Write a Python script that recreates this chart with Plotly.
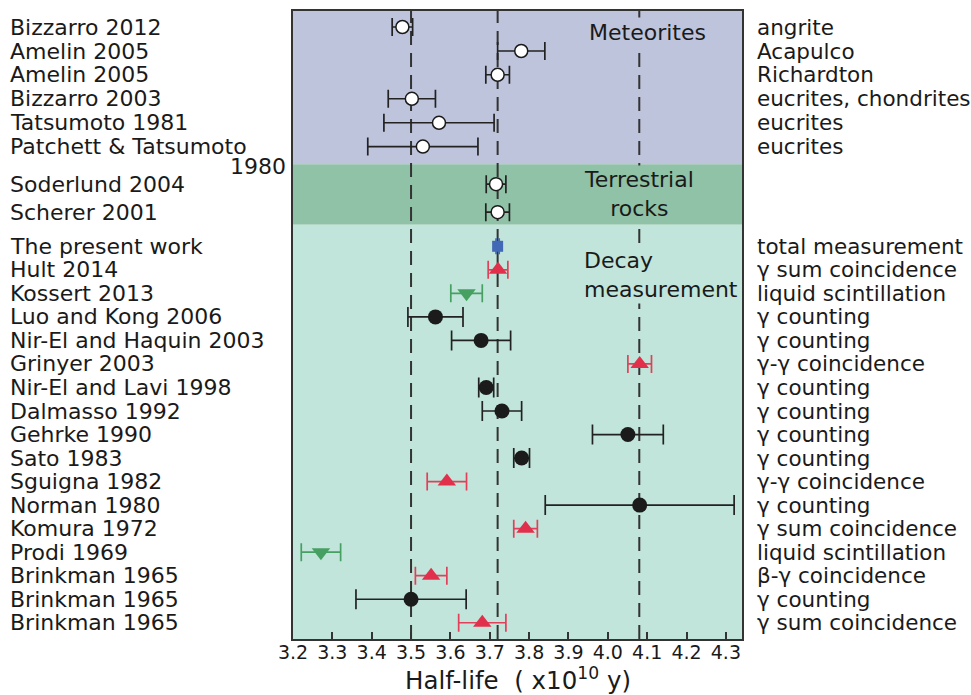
import plotly.graph_objects as go

# ---------------- data ----------------
refs = ["Bizzarro 2012", "Amelin 2005", "Amelin 2005", "Bizzarro 2003", "Tatsumoto 1981",
        "Patchett & Tatsumoto",
        "Soderlund 2004", "Scherer 2001",
        "The present work", "Hult 2014", "Kossert 2013", "Luo and Kong 2006",
        "Nir-El and Haquin 2003", "Grinyer 2003", "Nir-El and Lavi 1998", "Dalmasso 1992",
        "Gehrke 1990", "Sato 1983", "Sguigna 1982", "Norman 1980", "Komura 1972",
        "Prodi 1969", "Brinkman 1965", "Brinkman 1965", "Brinkman 1965"]
methods = ["angrite", "Acapulco", "Richardton", "eucrites, chondrites", "eucrites", "eucrites",
           "", "",
           "total measurement", "γ sum coincidence", "liquid scintillation", "γ counting",
           "γ counting", "γ-γ coincidence", "γ counting", "γ counting", "γ counting",
           "γ counting", "γ-γ coincidence", "γ counting", "γ sum coincidence",
           "liquid scintillation", "β-γ coincidence", "γ counting", "γ sum coincidence"]
half_life = [3.478, 3.780, 3.720, 3.502, 3.571, 3.530,
             3.716, 3.720,
             3.720, 3.721, 3.641, 3.562, 3.678, 4.081, 3.691, 3.731, 4.051, 3.781,
             3.591, 4.081, 3.791, 3.271, 3.551, 3.500, 3.681]
uncert = [0.026, 0.060, 0.030, 0.060, 0.140, 0.140,
          0.025, 0.030,
          0.004, 0.025, 0.040, 0.070, 0.075, 0.030, 0.019, 0.050, 0.090, 0.020,
          0.050, 0.240, 0.030, 0.050, 0.040, 0.140, 0.060]
kinds = ["open"] * 8 + ["square", "tri_up", "tri_down", "dot", "dot", "tri_up", "dot", "dot",
                        "dot", "dot", "tri_up", "dot", "tri_up", "tri_down", "tri_up", "dot",
                        "tri_up"]
# row slots (top to bottom)
rows = [0.68, 1.70, 2.71, 3.73, 4.75, 5.76,
        7.36, 8.55] + [10 + i for i in range(17)]

ref_lines = [3.50, 3.72, 4.08]
x_ticks = [3.2, 3.3, 3.4, 3.5, 3.6, 3.7, 3.8, 3.9, 4.0, 4.1, 4.2, 4.3]

groups = [("Meteorites", 0.0, 6.51, "#bec4dc"),
          ("Terrestrial<br>rocks", 6.51, 9.08, "#8fc2a6"),
          ("Decay<br>measurement", 9.08, 26.69, "#c1e5da")]

# ---------------- styles ----------------
FONT = "DejaVu Sans"
styles = {
    "open": dict(symbol="circle", size=13, color="white", line=dict(color="#1a1a1a", width=1.5),
                 ecolor="#222222", ew=9),
    "dot": dict(symbol="circle", size=15, color="#1b1b1b", line=dict(width=0),
                ecolor="#222222", ew=10),
    "tri_up": dict(symbol="triangle-up", size=16, color="#e0304c", line=dict(width=0),
                   ecolor="#e2405a", ew=9),
    "tri_down": dict(symbol="triangle-down", size=16, color="#46a062", line=dict(width=0),
                     ecolor="#46a062", ew=9),
    "square": dict(symbol="square", size=11, color="#4169b5", line=dict(width=0),
                   ecolor="#4169b5", ew=8),
}

fig = go.Figure()

for kind in ["open", "dot", "tri_up", "tri_down", "square"]:
    idx = [i for i, k in enumerate(kinds) if k == kind]
    st = styles[kind]
    fig.add_trace(go.Scatter(
        x=[half_life[i] for i in idx],
        y=[rows[i] for i in idx],
        mode="markers",
        marker=dict(symbol=st["symbol"], size=st["size"], color=st["color"], line=st["line"]),
        error_x=dict(type="data", array=[uncert[i] for i in idx], color=st["ecolor"],
                     thickness=1.7, width=st["ew"]),
        showlegend=False, hoverinfo="x+y",
    ))

shapes = []
for name, y0, y1, col in groups:
    shapes.append(dict(type="rect", xref="paper", yref="y", x0=0, x1=1, y0=y0, y1=y1,
                       fillcolor=col, line=dict(width=0), layer="below"))
for xv in ref_lines:
    shapes.append(dict(type="line", xref="x", yref="paper", x0=xv, x1=xv, y0=0, y1=1,
                       line=dict(color="#333333", width=2, dash="14px,8px"), layer="below"))

PLOT_L, PLOT_W = 293, 449
annotations = []
for i, r in enumerate(refs):
    annotations.append(dict(x=(8 - PLOT_L) / PLOT_W, xref="paper", y=rows[i], yref="y",
                            text=r, showarrow=False, xanchor="left", yanchor="middle",
                            font=dict(family=FONT, size=22, color="#1a1a1a")))
    if methods[i]:
        annotations.append(dict(x=(755 - PLOT_L) / PLOT_W, xref="paper", y=rows[i], yref="y",
                                text=methods[i], showarrow=False, xanchor="left",
                                yanchor="middle",
                                font=dict(family=FONT, size=21.5, color="#1a1a1a")))
annotations.append(dict(x=(288 - PLOT_L) / PLOT_W, xref="paper", y=6.6, yref="y",
                        text="1980", showarrow=False, xanchor="right", yanchor="middle",
                        font=dict(family=FONT, size=22, color="#1a1a1a")))
# group labels
annotations.append(dict(x=3.945, y=0.93, xref="x", yref="y", text="Meteorites",
                        showarrow=False, xanchor="left", yanchor="middle",
                        bgcolor=groups[0][3], borderpad=2,
                        font=dict(family=FONT, size=22, color="#1a1a1a")))
annotations.append(dict(x=4.08, y=7.77, xref="x", yref="y", text=groups[1][0],
                        showarrow=False, xanchor="center", yanchor="middle", align="center",
                        bgcolor=groups[1][3], borderpad=1,
                        font=dict(family=FONT, size=22, color="#1a1a1a")))
annotations.append(dict(x=3.935, y=11.23, xref="x", yref="y", text=groups[2][0],
                        showarrow=False, xanchor="left", yanchor="middle", align="left",
                        bgcolor=groups[2][3], borderpad=1,
                        font=dict(family=FONT, size=22, color="#1a1a1a")))
# axis title
annotations.append(dict(x=0.5, y=(639 - 679) / 630, xref="paper", yref="paper",
                        text="Half-life  ( x10<sup>10</sup> y)", showarrow=False,
                        xanchor="center", yanchor="middle",
                        font=dict(family=FONT, size=24.5, color="#1a1a1a")))

fig.update_layout(
    width=971, height=695,
    margin=dict(l=293, r=229, t=9, b=56, pad=0),
    paper_bgcolor="white", plot_bgcolor="white",
    shapes=shapes, annotations=annotations,
    font=dict(family=FONT, color="#1a1a1a"),
    xaxis=dict(range=[3.2, 4.341], tickvals=x_ticks,
               ticktext=[f"{v:.1f}" for v in x_ticks],
               ticks="inside", ticklen=7, tickwidth=1.5, tickcolor="#333333",
               ticklabelstandoff=-5,
               showline=True, mirror=True, linecolor="#333333", linewidth=1.5,
               showgrid=False, zeroline=False,
               tickfont=dict(family=FONT, size=19, color="#1a1a1a")),
    yaxis=dict(range=[26.69, 0], showticklabels=False, ticks="",
               showline=True, mirror=True, linecolor="#333333", linewidth=1.5,
               showgrid=False, zeroline=False),
)

fig.write_html("out.html")
